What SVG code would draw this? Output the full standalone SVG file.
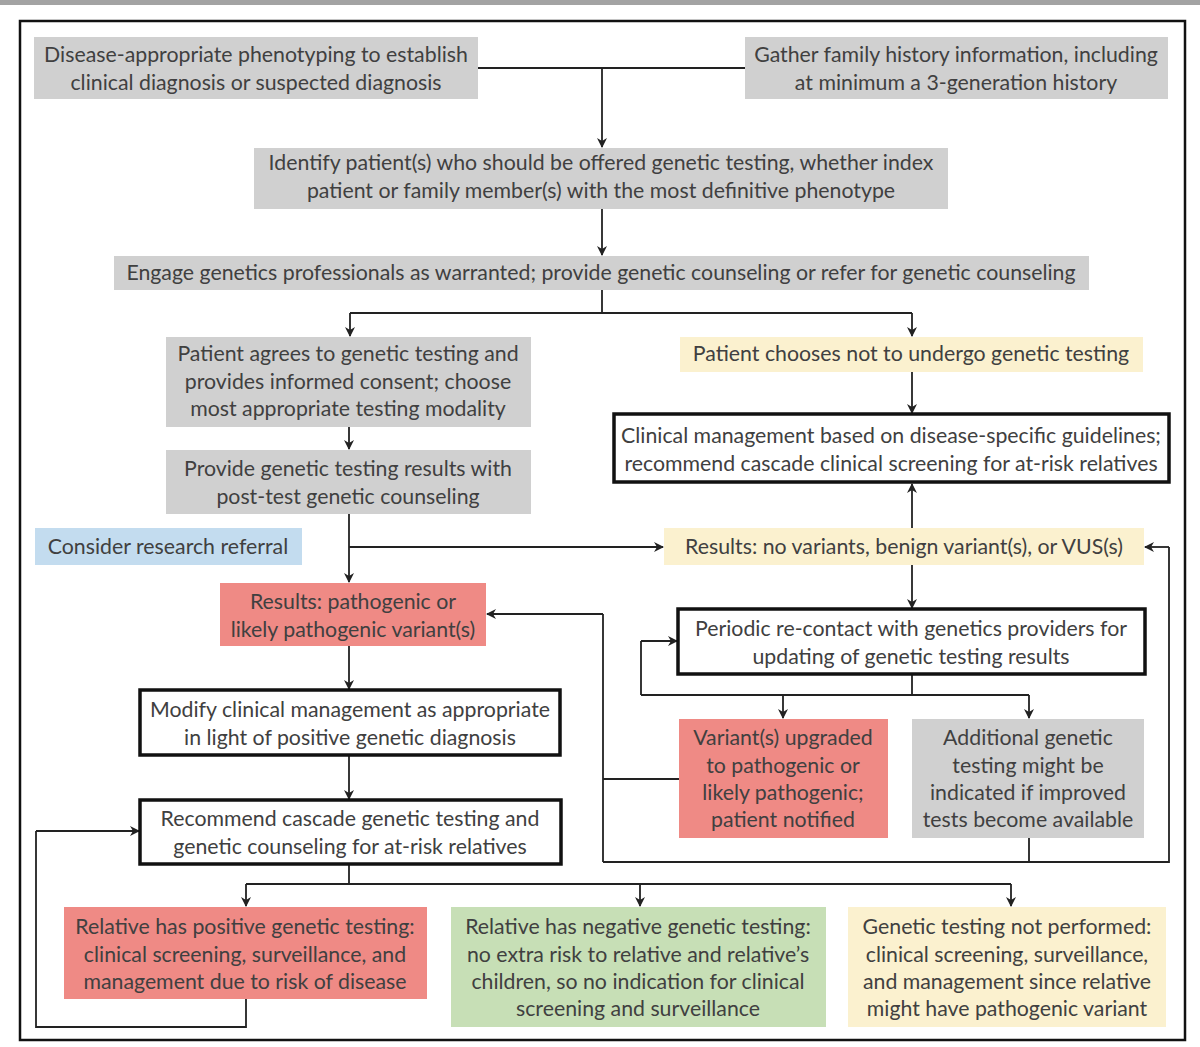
<svg xmlns="http://www.w3.org/2000/svg" width="1200" height="1047" viewBox="0 0 1200 1047">
<style>
text{font-family:Lato,"Liberation Sans",sans-serif;font-size:21.3px;fill:#404040;text-anchor:middle}
.g{fill:#d0d0d0}.y{fill:#fbf1cf}.r{fill:#ef8a85}.gr{fill:#c7dfb6}.b{fill:#c3dcef}
.w{fill:#fff;stroke:#111;stroke-width:3.5}
.c{fill:none;stroke:#222;stroke-width:1.8}
</style>
<defs>
<marker id="a" viewBox="0 0 10 10" refX="9" refY="5" markerWidth="10" markerHeight="10" markerUnits="userSpaceOnUse" orient="auto">
<path d="M0,0 L10,5 L0,10 L3,5 z" fill="#222"/>
</marker>
</defs>
<rect width="1200" height="1047" fill="#fff"/>
<rect x="0" y="0" width="1200" height="5" fill="#a3a3a3"/>
<rect x="20" y="21" width="1165" height="1019" fill="none" stroke="#111" stroke-width="2.5"/>
<g id="connectors">
<path class="c" d="M478,68 H745"/>
<path class="c" d="M602,68 V147" marker-end="url(#a)"/>
<path class="c" d="M602,209 V255" marker-end="url(#a)"/>
<path class="c" d="M602,290 V313 M350,313 H912"/>
<path class="c" d="M350,313 V336" marker-end="url(#a)"/>
<path class="c" d="M912,313 V336" marker-end="url(#a)"/>
<path class="c" d="M912,372 V413" marker-end="url(#a)"/>
<path class="c" d="M349,427 V449" marker-end="url(#a)"/>
<path class="c" d="M349,514 V582" marker-end="url(#a)"/>
<path class="c" d="M349,547 H663" marker-end="url(#a)"/>
<path class="c" d="M912,528 V484" marker-end="url(#a)"/>
<path class="c" d="M912,565 V608" marker-end="url(#a)"/>
<path class="c" d="M912,674 V695 M641,695 H1029 M641,695 V641"/>
<path class="c" d="M641,641 H677" marker-end="url(#a)"/>
<path class="c" d="M783,695 V718" marker-end="url(#a)"/>
<path class="c" d="M1029,695 V718" marker-end="url(#a)"/>
<path class="c" d="M679,779 H603 M603,862 V614"/>
<path class="c" d="M603,614 H487" marker-end="url(#a)"/>
<path class="c" d="M1029,838 V862 M603,862 H1169 V547"/>
<path class="c" d="M1169,547 H1145" marker-end="url(#a)"/>
<path class="c" d="M349,646 V689" marker-end="url(#a)"/>
<path class="c" d="M349,755 V799" marker-end="url(#a)"/>
<path class="c" d="M349,864 V884 M246,884 H1011"/>
<path class="c" d="M246,884 V906" marker-end="url(#a)"/>
<path class="c" d="M640,884 V906" marker-end="url(#a)"/>
<path class="c" d="M1011,884 V906" marker-end="url(#a)"/>
<path class="c" d="M246,999 V1027 H36 V831"/>
<path class="c" d="M36,831 H139" marker-end="url(#a)"/>
</g>
<g id="n1"><rect class="g" x="34" y="37" width="444" height="62"/><text x="256" y="62">Disease-appropriate phenotyping to establish</text><text x="256" y="90">clinical diagnosis or suspected diagnosis</text></g>
<g id="n2"><rect class="g" x="745" y="37" width="423" height="62"/><text x="956" y="62">Gather family history information, including</text><text x="956" y="90">at minimum a 3-generation history</text></g>
<g id="n3"><rect class="g" x="254" y="148" width="694" height="61"/><text x="601" y="170">Identify patient(s) who should be offered genetic testing, whether index</text><text x="601" y="198">patient or family member(s) with the most definitive phenotype</text></g>
<g id="n4"><rect class="g" x="114" y="256" width="975" height="34"/><text x="601" y="280">Engage genetics professionals as warranted; provide genetic counseling or refer for genetic counseling</text></g>
<g id="n5"><rect class="g" x="166" y="337" width="365" height="90"/><text x="348" y="361">Patient agrees to genetic testing and</text><text x="348" y="389">provides informed consent; choose</text><text x="348" y="416">most appropriate testing modality</text></g>
<g id="n6"><rect class="y" x="680" y="337" width="463" height="35"/><text x="911" y="361">Patient chooses not to undergo genetic testing</text></g>
<g id="n7"><rect class="w" x="614" y="414" width="555" height="68"/><text x="891" y="443">Clinical management based on disease-specific guidelines;</text><text x="891" y="471">recommend cascade clinical screening for at-risk relatives</text></g>
<g id="n8"><rect class="g" x="166" y="450" width="365" height="64"/><text x="348" y="476">Provide genetic testing results with</text><text x="348" y="504">post-test genetic counseling</text></g>
<g id="n9"><rect class="b" x="35" y="528" width="267" height="37"/><text x="168" y="554">Consider research referral</text></g>
<g id="n10"><rect class="r" x="220" y="583" width="266" height="63"/><text x="353" y="609">Results: pathogenic or</text><text x="353" y="637">likely pathogenic variant(s)</text></g>
<g id="n11"><rect class="y" x="664" y="528" width="480" height="37"/><text x="904" y="554">Results: no variants, benign variant(s), or VUS(s)</text></g>
<g id="n12"><rect class="w" x="678" y="609" width="467" height="65"/><text x="911" y="636">Periodic re-contact with genetics providers for</text><text x="911" y="664">updating of genetic testing results</text></g>
<g id="n13"><rect class="w" x="140" y="690" width="420" height="65"/><text x="350" y="717">Modify clinical management as appropriate</text><text x="350" y="745">in light of positive genetic diagnosis</text></g>
<g id="n14"><rect class="w" x="140" y="800" width="421" height="64"/><text x="350" y="826">Recommend cascade genetic testing and</text><text x="350" y="854">genetic counseling for at-risk relatives</text></g>
<g id="n15"><rect class="r" x="679" y="719" width="209" height="119"/><text x="783" y="745">Variant(s) upgraded</text><text x="783" y="773">to pathogenic or</text><text x="783" y="800">likely pathogenic;</text><text x="783" y="827">patient notified</text></g>
<g id="n16"><rect class="g" x="912" y="719" width="232" height="119"/><text x="1028" y="745">Additional genetic</text><text x="1028" y="773">testing might be</text><text x="1028" y="800">indicated if improved</text><text x="1028" y="827">tests become available</text></g>
<g id="n17"><rect class="r" x="64" y="907" width="363" height="92"/><text x="245" y="934">Relative has positive genetic testing:</text><text x="245" y="962">clinical screening, surveillance, and</text><text x="245" y="989">management due to risk of disease</text></g>
<g id="n18"><rect class="gr" x="451" y="907" width="375" height="120"/><text x="638" y="934">Relative has negative genetic testing:</text><text x="638" y="962">no extra risk to relative and relative’s</text><text x="638" y="989">children, so no indication for clinical</text><text x="638" y="1016">screening and surveillance</text></g>
<g id="n19"><rect class="y" x="848" y="907" width="318" height="120"/><text x="1007" y="934">Genetic testing not performed:</text><text x="1007" y="962">clinical screening, surveillance,</text><text x="1007" y="989">and management since relative</text><text x="1007" y="1016">might have pathogenic variant</text></g>
</svg>
